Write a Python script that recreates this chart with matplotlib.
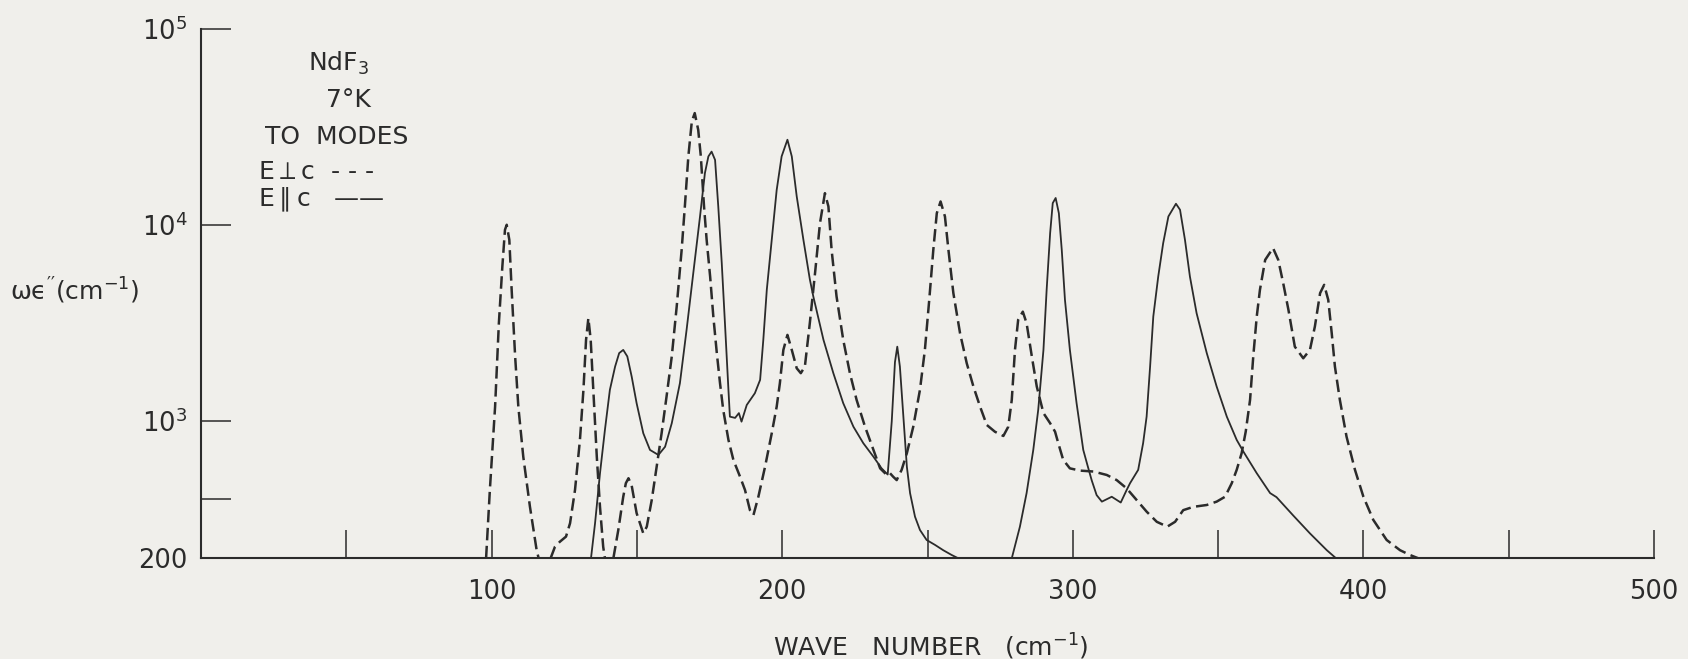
import numpy as np
import matplotlib
matplotlib.use("Agg")
import matplotlib.pyplot as plt
from matplotlib.ticker import NullLocator

# ---- data: omega*eps'' (cm^-1) versus wave number (cm^-1), NdF3 at 7 K ----
# E perpendicular to c (dashed); NaN separates pieces that drop below the axis floor
perp_x = [98.1, 99.4, 101.2, 102.5, 103.7, 104.6, 105.2, 106.1, 106.9, 108.1, 109.2, 110.9,
          113.2, 115.5, 116.2,
          np.nan,
          120.3, 121.8, 123.5, 125.6, 127.0, 128.7, 130.4, 131.6, 132.5, 133.3, 134.1, 135.0,
          136.2, 137.3, 138.4, 139.0,
          np.nan,
          141.9, 143.6, 145.3, 146.2, 147.1, 148.2, 149.9, 152.2, 153.4, 155.1, 156.8, 158.5,
          160.2, 162.0, 163.7, 165.4, 166.5, 167.7, 168.9, 169.9, 171.1, 172.0, 173.1, 174.0,
          175.2, 176.3, 177.5, 178.6, 179.7, 181.5, 183.2, 185.5, 187.2, 188.9, 190.1, 191.8,
          194.1, 196.4, 198.1, 199.2, 200.4, 201.8, 203.3, 205.0, 206.4, 207.8, 209.5, 211.3,
          213.0, 214.7, 215.9, 217.0, 218.7, 221.0, 223.3, 225.6, 228.5, 231.4, 233.7, 236.0,
          237.1, 238.2, 239.4, 241.1, 242.9, 245.1, 247.4, 249.1, 250.6, 252.0, 253.2, 254.5,
          256.0, 257.2, 258.9, 261.2, 263.5, 265.8, 268.1, 270.4, 273.2, 276.1, 277.8, 279.0,
          280.1, 281.2, 282.8, 284.1, 285.9, 287.6, 289.9, 292.2, 293.9, 295.0, 296.7, 299.0,
          302.5, 307.1, 311.7, 315.1, 318.5, 322.0, 325.4, 328.9, 332.5, 335.2, 338.0, 341.5,
          346.1, 349.5, 352.4, 354.7, 356.4, 358.1, 359.5, 361.0, 362.1, 363.3, 364.4, 366.2,
          368.9, 370.7, 372.4, 374.2, 376.4, 379.3, 381.6, 383.3, 385.1, 386.5, 387.9, 389.1,
          390.2, 391.9, 394.2, 397.1, 400.0, 403.4, 408.0, 412.6, 416.0, 418.9]
perp_y = [200, 446, 1186, 3160, 6150, 9460, 10040, 8410, 4680, 2140, 1186, 659,
          366, 220, 200,
          np.nan,
          200, 229, 243, 258, 302, 446, 803, 1445, 2600, 3355, 2600, 1445,
          659, 366, 229, 200,
          np.nan,
          200, 279, 412, 483, 512, 470, 340, 268, 290, 396, 586, 868,
          1335, 2140, 3850, 7480, 12450, 22400, 33800, 37250, 30600, 22400, 12450, 8410,
          5470, 3420, 2225, 1563, 1143, 803, 635, 521, 446, 352, 332, 412,
          586, 868, 1186, 1563, 2310, 2755, 2310, 1862, 1758, 1900, 3160, 5690,
          10230, 14550, 12450, 7480, 4330, 2600, 1758, 1285, 938, 714, 575, 532,
          543, 521, 501, 565, 687, 938, 1445, 2310, 4160, 7480, 11500, 13200,
          11070, 7480, 4500, 2810, 1976, 1503, 1186, 957, 884, 841, 938, 1285,
          2310, 3290, 3620, 3160, 2140, 1503, 1100, 977, 884, 773, 635, 575,
          560, 554, 532, 501, 455, 396, 346, 307, 290, 307, 352, 366,
          374, 389, 412, 483, 565, 687, 884, 1285, 2140, 3420, 4680, 6650,
          7640, 6650, 5060, 3700, 2400, 2094, 2310, 3040, 4500, 4960, 4160, 2810,
          1900, 1285, 834, 565, 412, 314, 248, 220, 208, 200]

# E parallel to c (solid)
par_x = [134.2, 135.6, 137.3, 139.0, 140.7, 142.5, 143.9, 145.3, 146.7, 148.2, 149.9, 152.2,
         154.5, 157.4, 159.7, 162.0, 164.8, 167.1, 169.4, 171.7, 173.4, 174.6, 175.7, 176.9,
         178.0, 179.2, 180.3, 181.5, 182.0, 183.8, 185.1, 186.0, 187.8, 190.6, 192.4, 193.5,
         194.7, 196.4, 198.1, 199.8, 201.8, 203.3, 205.0, 207.3, 209.5, 210.7, 214.2, 217.6,
         221.0, 224.5, 227.9, 231.4, 234.2, 236.3, 237.7, 238.8, 239.6, 240.5, 241.7, 242.9,
         244.0, 245.7, 247.4, 249.7, 252.6, 255.4, 258.3, 260.6,
         np.nan,
         279.0, 281.8, 284.1, 286.4, 288.1, 289.9, 291.0, 292.2, 293.1, 294.1, 295.2, 296.2,
         297.3, 299.0, 301.3, 303.6, 305.0, 306.5, 308.2, 310.0, 313.4, 316.5, 318.5, 319.7,
         322.5, 324.2, 325.4, 326.6, 327.7, 329.4, 331.1, 332.9, 335.5, 336.9, 338.6, 340.3,
         342.6, 346.1, 349.5, 353.0, 356.4, 358.7, 363.3, 367.9, 370.1, 375.9, 381.6, 387.4,
         390.6]
par_y = [200, 302, 543, 904, 1445, 1900, 2225, 2310, 2140, 1690, 1236, 868,
         714, 673, 741, 977, 1563, 2925, 5690, 11000, 18400, 22400, 23700, 21500,
         12450, 6400, 3160, 1445, 1055, 1040, 1100, 995, 1210, 1390, 1625, 2600,
         4680, 8410, 15100, 22400, 27250, 22400, 14000, 8410, 5300, 4330, 2600, 1758,
         1236, 938, 773, 659, 575, 535, 1000, 2000, 2400, 1900, 1055, 586,
         430, 326, 279, 248, 234, 220, 208, 200,
         np.nan,
         200, 290, 430, 714, 1143, 2310, 4680, 9100, 12950, 13750, 11500, 7480,
         4160, 2310, 1236, 714, 600, 500, 420, 389, 412, 385, 445, 483,
         565, 773, 1055, 1900, 3420, 5470, 8090, 11070, 12850, 11970, 8410, 5470,
         3556, 2225, 1503, 1055, 803, 700, 543, 430, 410, 330, 268, 220,
         200]

x_ticks = [50, 100, 150, 200, 250, 300, 350, 400, 450, 500]
x_labels = ["", "100", "", "200", "", "300", "", "400", "", "500"]
y_ticks = [200, 400, 1e3, 1e4, 1e5]
y_labels = ["200", "", r"$\mathregular{10^3}$", r"$\mathregular{10^4}$", r"$\mathregular{10^5}$"]

# ---- styling ----
W, H = 1688, 659
BG = "#f0efeb"
INK = "#2b2b2b"
FAM = ["DejaVu Sans"]
plt.rcParams["font.family"] = FAM
plt.rcParams["mathtext.default"] = "regular"
plt.rcParams["mathtext.fontset"] = "dejavusans"

fig = plt.figure(figsize=(W / 100, H / 100), dpi=100, facecolor=BG)
x0, x1 = 201, 1654
yb, yt = 558.3, 29
ax = fig.add_axes([x0 / W, 1 - yb / H, (x1 - x0) / W, (yb - yt) / H])
ax.set_facecolor(BG)

ax.plot(perp_x, perp_y, color=INK, lw=1.8, linestyle=(0, (5, 2.2)))
ax.plot(par_x, par_y, color=INK, lw=1.3)

ax.set_yscale("log")
ax.set_xlim(0, 500)
ax.set_ylim(200, 1e5)
ax.yaxis.set_minor_locator(NullLocator())
ax.xaxis.set_minor_locator(NullLocator())
ax.set_xticks(x_ticks)
ax.set_xticklabels(x_labels)
ax.set_yticks(y_ticks)
ax.set_yticklabels(y_labels)

for s in ("top", "right"):
    ax.spines[s].set_visible(False)
for s in ("left", "bottom"):
    ax.spines[s].set_color(INK)
    ax.spines[s].set_linewidth(1.5)

ax.tick_params(axis="x", direction="in", length=20, width=1.1, color=INK,
               labelsize=18.5, labelcolor=INK, pad=15)
ax.tick_params(axis="y", direction="in", length=21.5, width=1.1, color=INK,
               labelsize=18.5, labelcolor=INK, pad=10)


def fx(px):
    return px / W


def fy(py):
    return 1 - py / H


txt = dict(color=INK, fontsize=18, family=FAM)
fig.text(fx(338), fy(63), r"NdF$_3$", ha="center", va="center", **txt)
fig.text(fx(348), fy(100), "7°K", ha="center", va="center", **txt)
fig.text(fx(337), fy(137), "TO  MODES", ha="center", va="center", **txt)
fig.text(fx(258), fy(172), r"E$\perp$c  - - -", ha="left", va="center", **txt)
fig.text(fx(258), fy(200), r"E$\parallel$c   ——", ha="left", va="center", **txt)

fig.text(fx(75), fy(291), r"ωϵ$''$(cm$^{-1}$)", ha="center", va="center", **txt)
fig.text(fx(931), fy(647), r"WAVE   NUMBER   (cm$^{-1}$)", ha="center", va="center", **txt)

fig.savefig("out.png", dpi=100, facecolor=BG)
